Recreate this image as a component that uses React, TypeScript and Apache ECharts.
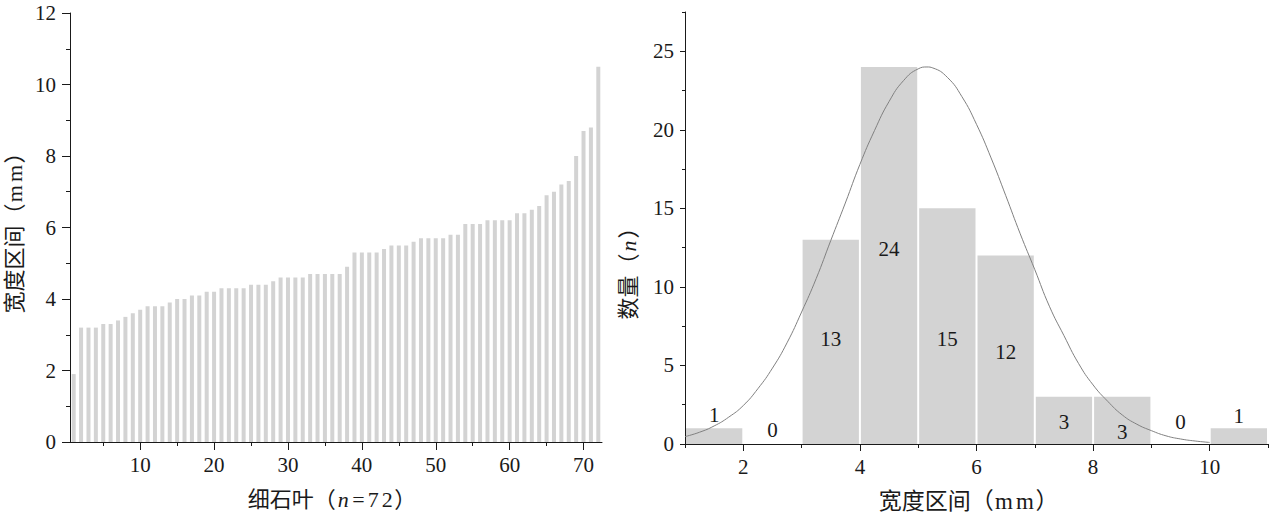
import React, { useEffect, useRef } from "react";
import * as echarts from "echarts";

// Left chart: widths of the 72 micro-blades, sorted (mm)
const widths = [
  1.9, 3.2, 3.2, 3.2, 3.3, 3.3, 3.4, 3.5, 3.6, 3.7, 3.8, 3.8, 3.8, 3.9, 4.0, 4.0,
  4.1, 4.1, 4.2, 4.2, 4.3, 4.3, 4.3, 4.3, 4.4, 4.4, 4.4, 4.5, 4.6, 4.6, 4.6, 4.6,
  4.7, 4.7, 4.7, 4.7, 4.7, 4.9, 5.3, 5.3, 5.3, 5.3, 5.4, 5.5, 5.5, 5.5, 5.6, 5.7,
  5.7, 5.7, 5.7, 5.8, 5.8, 6.1, 6.1, 6.1, 6.2, 6.2, 6.2, 6.2, 6.4, 6.4, 6.5, 6.6,
  6.9, 7.0, 7.2, 7.3, 8.0, 8.7, 8.8, 10.5,
];
const leftXMajor = [10, 20, 30, 40, 50, 60, 70];
const leftXMinor = [5, 15, 25, 35, 45, 55, 65];

// Right chart: histogram bins (mm) and counts
const binStarts = [1, 2, 3, 4, 5, 6, 7, 8, 9, 10];
const counts = [1, 0, 13, 24, 15, 12, 3, 3, 0, 1];
const rightXMajor = [2, 4, 6, 8, 10];
const rightXMinor = [1, 3, 5, 7, 9, 11];
const rightYMajor = [0, 5, 10, 15, 20, 25];
const rightYMinor = [2.5, 7.5, 12.5, 17.5, 22.5, 27.5];

// Fitted normal curve
const curveX = [
  1.0, 1.25, 1.5, 1.75, 2.0, 2.25, 2.5, 2.75, 3.0, 3.25, 3.5, 3.75, 4.0, 4.25,
  4.5, 4.75, 5.0, 5.15, 5.25, 5.5, 5.75, 6.0, 6.25, 6.5, 6.75, 7.0, 7.25, 7.5,
  7.75, 8.0, 8.25, 8.5, 8.75, 9.0, 9.25, 9.5, 9.75, 10.0,
];
const curveY = [
  0.47, 0.75, 1.15, 1.71, 2.45, 3.52, 4.83, 6.44, 8.4, 10.53, 12.95, 15.34, 17.8,
  19.95, 21.8, 23.14, 23.88, 24.0, 23.94, 23.34, 22.11, 20.35, 18.21, 15.83, 13.38,
  11.1, 8.77, 6.9, 5.13, 3.76, 2.72, 1.85, 1.26, 0.85, 0.52, 0.32, 0.19, 0.1,
];

// Layout: vertical anchor (in axis units) of each histogram count label
const labelAnchorY = [1.86, 0.91, 6.67, 12.4, 6.69, 5.85, 1.37, 0.76, 1.37, 1.8];

const serif = "'Liberation Serif', 'Times New Roman', 'Noto Sans CJK SC', serif";
const ink = "#1a1a1a";
const barGray = "#d3d3d3";

export default function App() {
  const ref = useRef<HTMLDivElement>(null);

  useEffect(() => {
    if (!ref.current) return;
    const chart = echarts.init(ref.current, undefined, { renderer: "svg" });

    const line = { color: ink, width: 1 };
    const tickLabel = { fontSize: 21, fontFamily: serif, color: ink };
    const nameStyle = (size: number, extra: any = {}) => ({
      fontSize: size,
      fontFamily: serif,
      color: ink,
      ...extra,
      rich: {
        i: { fontSize: size, fontFamily: serif, fontStyle: "italic", color: ink, padding: [0, 2, 0, 2] },
        l: { fontSize: size, fontFamily: serif, color: ink, padding: [0, 1.5, 0, 1.5] },
      },
    });

    const option: any = {
      animation: false,
      grid: [
        { left: 70, top: 13, width: 532, height: 429 },
        { left: 685, top: 12, width: 583, height: 432 },
      ],
      xAxis: [
        {
          gridIndex: 0,
          type: "value",
          min: 0.5,
          max: 72.5,
          position: "bottom",
          splitLine: { show: false },
          axisLine: { onZero: false, lineStyle: line },
          axisTick: { customValues: leftXMajor, length: 8, lineStyle: line },
          axisLabel: { customValues: leftXMajor, margin: 12, ...tickLabel },
          name: "细石叶（{i|n}{l|=}{l|7}{l|2}）",
          nameLocation: "middle",
          nameGap: 46,
          nameTextStyle: nameStyle(22, { padding: [0, 8, 0, 0] }),
        },
        {
          gridIndex: 0,
          type: "value",
          min: 0.5,
          max: 72.5,
          position: "bottom",
          splitLine: { show: false },
          axisLine: { show: false, onZero: false },
          axisTick: { customValues: leftXMinor, length: 4, lineStyle: line },
          axisLabel: { show: false },
        },
        {
          gridIndex: 1,
          type: "value",
          min: 1,
          max: 11,
          position: "bottom",
          splitLine: { show: false },
          axisLine: { onZero: false, lineStyle: line },
          axisTick: { customValues: rightXMajor, length: 7, lineStyle: line },
          axisLabel: { customValues: rightXMajor, margin: 12, ...tickLabel },
          name: "宽度区间（{l|m}{l|m}）",
          nameLocation: "middle",
          nameGap: 46,
          nameTextStyle: nameStyle(23, { padding: [0, 16, 0, 0] }),
        },
        {
          gridIndex: 1,
          type: "value",
          min: 1,
          max: 11,
          position: "bottom",
          splitLine: { show: false },
          axisLine: { show: false, onZero: false },
          axisTick: { customValues: rightXMinor, length: 4, lineStyle: line },
          axisLabel: { show: false },
        },
      ],
      yAxis: [
        {
          gridIndex: 0,
          type: "value",
          min: 0,
          max: 12,
          interval: 2,
          position: "left",
          splitLine: { show: false },
          axisLine: { show: true, onZero: false, lineStyle: line },
          axisTick: { show: true, length: 8, lineStyle: line },
          minorTick: { show: true, splitNumber: 2, length: 4, lineStyle: line },
          axisLabel: { margin: 14, ...tickLabel },
          name: "宽度区间（{l|m}{l|m}）",
          nameLocation: "middle",
          nameGap: 45,
          nameTextStyle: nameStyle(22),
        },
        {
          gridIndex: 1,
          type: "value",
          min: 0,
          max: 27.5,
          position: "left",
          splitLine: { show: false },
          axisLine: { show: true, onZero: false, lineStyle: line },
          axisTick: { show: true, customValues: rightYMajor, length: 5, lineStyle: line },
          axisLabel: { customValues: rightYMajor, margin: 11, ...tickLabel },
          name: "数量（{i|n}）",
          nameLocation: "middle",
          nameGap: 46,
          nameTextStyle: nameStyle(22, { padding: [0, 80, 0, 0] }),
        },
        {
          gridIndex: 1,
          type: "value",
          min: 0,
          max: 27.5,
          position: "left",
          splitLine: { show: false },
          axisLine: { show: false, onZero: false },
          axisTick: { show: true, customValues: rightYMinor, length: 3, lineStyle: line },
          axisLabel: { show: false },
        },
      ],
      series: [
        {
          type: "bar",
          xAxisIndex: 0,
          yAxisIndex: 0,
          data: widths.map((v, i) => [i + 1, v]),
          barWidth: 4,
          itemStyle: { color: barGray },
        },
        {
          type: "custom",
          xAxisIndex: 2,
          yAxisIndex: 1,
          data: binStarts.map((b, i) => [b, b + 1, counts[i], i]),
          encode: { x: [0, 1], y: 2 },
          z: 2,
          renderItem: (params: any, api: any) => {
            const lo = api.value(0);
            const hi = api.value(1);
            const c = api.value(2);
            const idx = api.value(3);
            const p0 = api.coord([lo, 0]);
            const p1 = api.coord([hi, c]);
            const children: any[] = [];
            if (c > 0) {
              children.push({
                type: "rect",
                shape: {
                  x: p0[0] + 1,
                  y: p1[1],
                  width: p1[0] - p0[0] - 2,
                  height: p0[1] - p1[1],
                },
                style: { fill: barGray },
              });
            }
            const lp = api.coord([(lo + hi) / 2, labelAnchorY[idx]]);
            children.push({
              type: "text",
              x: lp[0],
              y: lp[1],
              z2: 10,
              style: {
                text: String(c),
                fill: ink,
                fontSize: 21,
                fontFamily: serif,
                align: "center",
                verticalAlign: "middle",
              },
            });
            return { type: "group", children };
          },
        },
        {
          type: "line",
          xAxisIndex: 2,
          yAxisIndex: 1,
          data: curveX.map((x, i) => [x, curveY[i]]),
          smooth: true,
          symbol: "none",
          z: 3,
          lineStyle: { color: "#808080", width: 1 },
        },
      ],
    };

    chart.setOption(option);
    return () => chart.dispose();
  }, []);

  return (
    <div
      ref={ref}
      style={{ position: "absolute", left: 0, top: 0, width: 1269, height: 520 }}
    />
  );
}
